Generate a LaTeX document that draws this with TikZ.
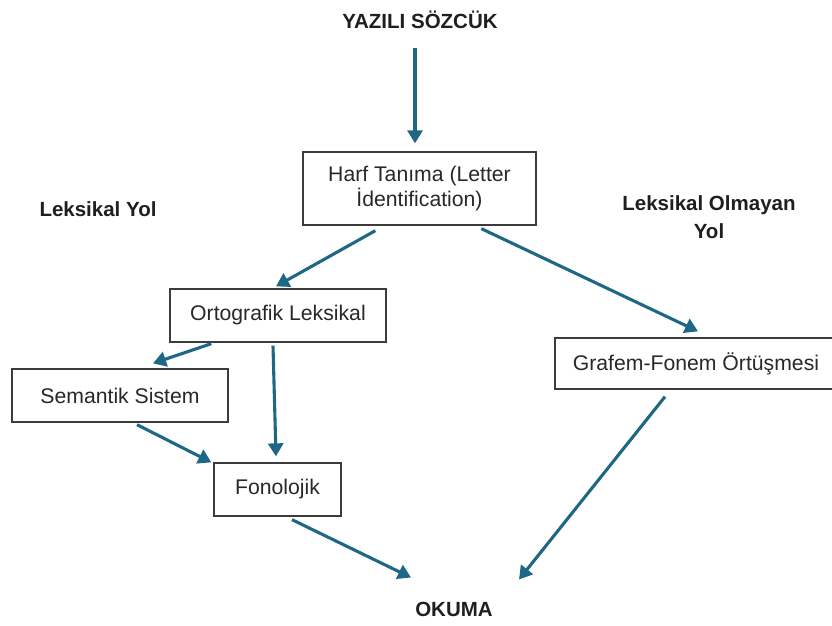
\documentclass[tikz,border=0pt]{standalone}
\usepackage{fontspec}
\setmainfont{Liberation Sans}
\usetikzlibrary{arrows.meta,calc}
\definecolor{arrowblue}{RGB}{30,104,134}
\definecolor{boxline}{RGB}{60,60,60}
\definecolor{txt}{RGB}{40,40,40}
\begin{document}
\begin{tikzpicture}[x=1pt,y=-1pt,
  box/.style={draw=boxline,line width=1.3pt,fill=white,inner sep=0pt,align=center,text=txt,font=\fontsize{21.2}{25}\selectfont},
  lbl/.style={inner sep=0pt,align=center,text=black!88,font=\fontsize{20.5}{28}\selectfont\bfseries},
  arr/.style={draw=arrowblue,line width=3.1pt,-{Triangle[length=13pt,width=15pt]}}]
\useasboundingbox (0,0) rectangle (832,625);
\fill[white] (0,0) rectangle (832,625);

\node[lbl,font=\fontsize{20.5}{24}\selectfont\bfseries] (yazili) at (420,19.5) {YAZILI SÖZCÜK};
\node[box,minimum width=233pt,minimum height=73pt] (harf) at (419.5,188.5) {Harf Tanıma (Letter\\İdentification)};
\node[lbl] (leksyol) at (98,209.5) {Leksikal Yol};
\node[lbl] (olmayan) at (709,217) {Leksikal Olmayan\\Yol};
\node[box,minimum width=216pt,minimum height=53pt] (orto) at (278,315.5) {Ortografik Leksikal};
\node[box,minimum width=282pt,minimum height=51pt] (grafem) at (696,363.5) {Grafem-Fonem Örtüşmesi};
\node[box,minimum width=216pt,minimum height=53pt] (sem) at (120,395.5) {Semantik Sistem};
\node[box,minimum width=127pt,minimum height=53pt] (fono) at (277.5,489.5) {Fonolojik};
\node[lbl] (okuma) at (454,609.5) {OKUMA};

\draw[arr] ($(yazili.center)+(-5,28)$) -- ($(harf.north)+(-4.5,-8)$);
\draw[arr] ($(harf.south west)+(73,5)$) -- ($(orto.north)+(-2,-2)$);
\draw[arr] ($(harf.south west)+(179,3)$) -- ($(grafem.north)+(2,-6)$);
\draw[arr] ($(orto.south west)+(42,1)$) -- ($(sem.north)+(33,-5)$);
\draw[arr] ($(orto.south)+(-5,3)$) -- ($(fono.north)+(-1.5,-6)$);
\draw[arr] ($(sem.south)+(17,2)$) -- ($(fono.north west)+(-2,0)$);
\draw[arr] ($(fono.south)+(14.5,3)$) -- ($(okuma.center)+(-43,-32)$);
\draw[arr] ($(grafem.south)+(-31,7)$) -- ($(okuma.center)+(65,-30)$);
\end{tikzpicture}
\end{document}
